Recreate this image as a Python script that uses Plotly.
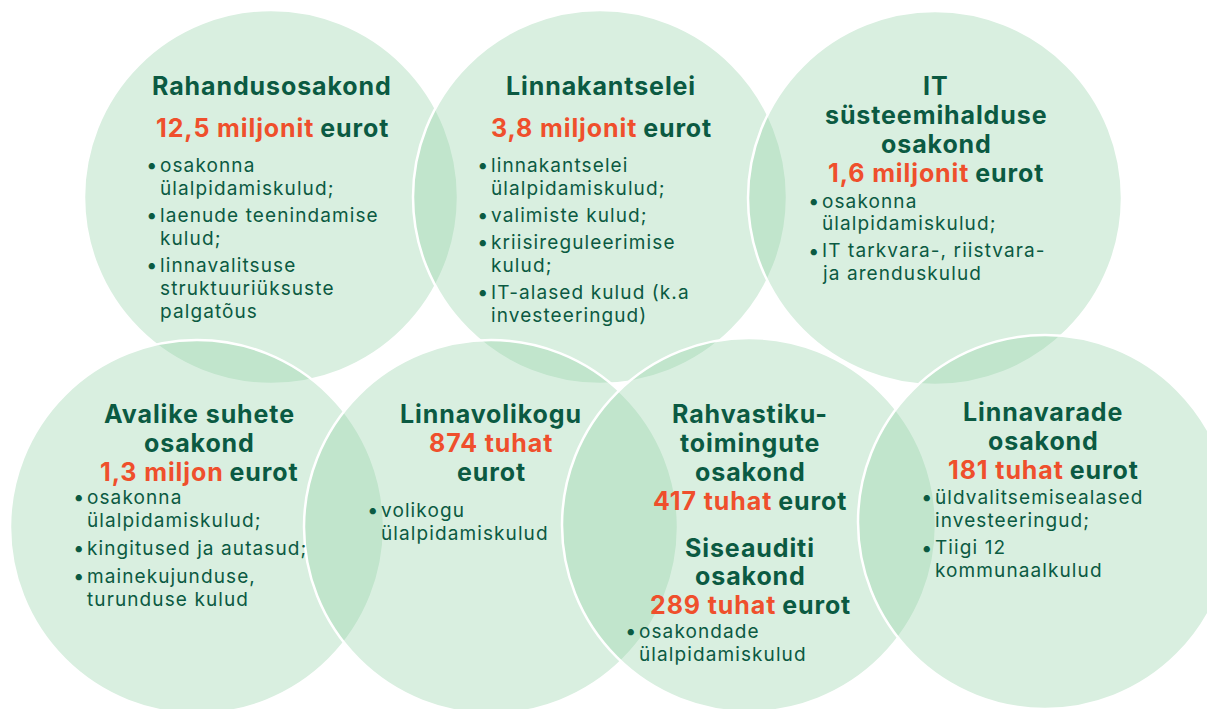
import plotly.graph_objects as go

# ---------------- data ----------------
titles = [
    ["Rahandusosakond"],
    ["Linnakantselei"],
    ["IT", "süsteemihalduse", "osakond"],
    ["Avalike suhete", "osakond"],
    ["Linnavolikogu"],
    ["Rahvastiku-", "toimingute", "osakond"],
    ["Siseauditi", "osakond"],
    ["Linnavarade", "osakond"],
]
amount_numbers = ["12,5", "3,8", "1,6", "1,3", "874", "417", "289", "181"]
amount_units = ["miljonit", "miljonit", "miljonit", "miljon", "tuhat", "tuhat", "tuhat", "tuhat"]
currency = "eurot"
bullets = [
    [["osakonna", "ülalpidamiskulud;"], ["laenude teenindamise", "kulud;"],
     ["linnavalitsuse", "struktuuriüksuste", "palgatõus"]],
    [["linnakantselei", "ülalpidamiskulud;"], ["valimiste kulud;"],
     ["kriisireguleerimise", "kulud;"], ["IT-alased kulud (k.a", "investeeringud)"]],
    [["osakonna", "ülalpidamiskulud;"], ["IT tarkvara-, riistvara-", "ja arenduskulud"]],
    [["osakonna", "ülalpidamiskulud;"], ["kingitused ja autasud;"],
     ["mainekujunduse,", "turunduse kulud"]],
    [["volikogu", "ülalpidamiskulud"]],
    [],
    [["osakondade", "ülalpidamiskulud"]],
    [["üldvalitsemisealased", "investeeringud;"], ["Tiigi 12", "kommunaalkulud"]],
]

# ---------------- layout / style ----------------
W, H = 1215, 709
OFF = 8  # page offset of the plot div (body margin)
FONT = "Inter"
DARK = "#0b5a42"
ORANGE = "#ef4f2c"
FILL = "rgba(150, 212, 168, 0.36)"
R = 187
circles = [(271, 197), (600, 197), (935, 198),
           (197, 527), (491, 527), (749, 525), (1045, 522)]

blocks = [
    dict(cx=272, ty=[86], ay=[128], tx=158, by=165, lh=23, gap=4),
    dict(cx=601, ty=[86], ay=[128], tx=489, by=165, lh=23, gap=4),
    dict(cx=936, ty=[86, 115, 144], ay=[173], tx=820, by=201, lh=22.5, gap=4.5),
    dict(cx=199, ty=[414, 443], ay=[472], tx=85, by=497, lh=23, gap=5),
    dict(cx=491, ty=[414], ay=[443, 472], tx=379, by=510, lh=23, gap=4),
    dict(cx=750, ty=[414, 443, 472], ay=[501], tx=637, by=0, lh=23, gap=4),
    dict(cx=750, ty=[548, 576], ay=[605], tx=637, by=631, lh=23, gap=4),
    dict(cx=1043, ty=[412, 441], ay=[470], tx=933, by=497, lh=23, gap=4.5),
]

TSIZE = 25
BSIZE = 19
DOTSIZE = 20
TSPACE = "0.9px"
BSPACE = "1.1px"

fig = go.Figure()
fig.add_trace(go.Scatter(x=[0, W], y=[0, H], mode="markers",
                         marker=dict(opacity=0), hoverinfo="skip", showlegend=False))

for (cx, cy) in circles:
    fig.add_shape(type="circle", xref="x", yref="y",
                  x0=cx - R, x1=cx + R, y0=cy - R, y1=cy + R,
                  fillcolor=FILL, line=dict(color="white", width=2.5), layer="below")

ann = []


def txt(x, y, s, size, anchor="center", bold=False, color=DARK, spacing=None):
    if spacing:
        s = f"<span style='letter-spacing:{spacing}'>" + s + "</span>"
    if bold:
        s = "<b>" + s + "</b>"
    ann.append(dict(x=x, y=y, xref="x", yref="y", text=s, showarrow=False,
                    xanchor=anchor, yanchor="middle", align="left" if anchor == "left" else "center",
                    font=dict(family=FONT, size=size, color=color)))


for i, b in enumerate(blocks):
    for line, y in zip(titles[i], b["ty"]):
        txt(b["cx"], y, line, TSIZE, bold=True, spacing=TSPACE)
    num = (f"<span style='color:{ORANGE};letter-spacing:{TSPACE}'>"
           f"{amount_numbers[i]} {amount_units[i]}</span>")
    cur = f"<span style='letter-spacing:{TSPACE}'>{currency}</span>"
    if len(b["ay"]) == 1:
        txt(b["cx"], b["ay"][0], num + " " + cur, TSIZE, bold=True)
    else:
        txt(b["cx"], b["ay"][0], num, TSIZE, bold=True)
        txt(b["cx"], b["ay"][1], cur, TSIZE, bold=True)
    y = b["by"]
    for item in bullets[i]:
        txt(b["tx"] - 6.5, y, "•", DOTSIZE, anchor="center", bold=True)
        for line in item:
            txt(b["tx"], y, line, BSIZE, anchor="left", spacing=BSPACE)
            y += b["lh"]
        y += b["gap"]

fig.update_layout(
    width=W, height=H, margin=dict(l=0, r=0, t=0, b=0),
    paper_bgcolor="white", plot_bgcolor="white",
    xaxis=dict(range=[OFF, W + OFF], visible=False, fixedrange=True),
    yaxis=dict(range=[H + OFF, OFF], visible=False, fixedrange=True),
    annotations=ann, showlegend=False,
)
fig.write_html("out.html")
